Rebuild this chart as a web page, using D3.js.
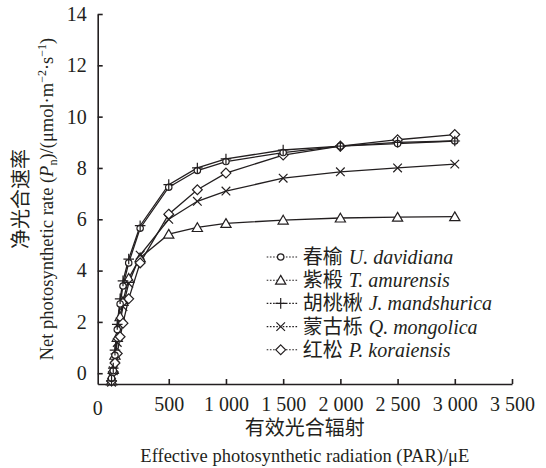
<!DOCTYPE html>
<html>
<head>
<meta charset="utf-8">
<script src="https://cdn.jsdelivr.net/npm/d3@7"></script>
<style>
  body { margin: 0; background: #fff; }
  .axis path, .axis line { stroke: #231f20; stroke-width: 1.6; }
</style>
</head>
<body>
<svg id="chart"></svg>
<script>
// light levels (PAR) and net photosynthetic rate per species
const par = [0, 15, 30, 50, 75, 100, 150, 250, 500, 750, 1000, 1500, 2000, 2500, 3000]
const chunyu = [-0.2, 0.1, 0.7, 1.7, 2.7, 3.4, 4.3, 5.65, 7.25, 7.9, 8.25, 8.6, 8.85, 8.95, 9.05]
const zijian = [-0.3, 0.15, 0.7, 1.4, 2.2, 2.8, 3.7, 4.5, 5.42, 5.68, 5.84, 5.97, 6.05, 6.08, 6.1]
const hutaoqiu = [-0.3, 0.2, 0.9, 1.9, 2.9, 3.6, 4.45, 5.75, 7.35, 8.0, 8.35, 8.7, 8.85, 9.0, 9.05]
const mengguli = [-0.35, 0.1, 0.6, 1.2, 2.0, 2.6, 3.5, 4.6, 6.0, 6.7, 7.1, 7.6, 7.85, 8.0, 8.15]
const hongsong = [-0.3, 0.05, 0.4, 0.77, 1.42, 1.95, 2.9, 4.3, 6.2, 7.15, 7.8, 8.5, 8.85, 9.1, 9.3]

const names = ['春榆', '紫椴', '胡桃楸', '蒙古栎', '红松']
const latin = ['U. davidiana', 'T. amurensis', 'J. mandshurica', 'Q. mongolica', 'P. koraiensis']
const symbols = ['circle', 'triangle', 'plus', 'cross', 'diamond']

const xTicks = [500, 1000, 1500, 2000, 2500, 3000, 3500]
const yTicks = [0, 2, 4, 6, 8, 10, 12, 14]

const series = [chunyu, zijian, hutaoqiu, mengguli, hongsong]

const SERIF = "'Liberation Serif', 'Times New Roman', serif"
const CJK = "'Noto Sans CJK SC', sans-serif"
const INK = '#231f20'

class LightCurve {

    constructor(config, _data) {
        this.config = config
        this.data = _data
        this.initVis()
    }

    initVis() {
        let vis = this
        let m = vis.config.margin

        vis.width = vis.config.containerWidth - m.left - m.right
        vis.height = vis.config.containerHeight - m.top - m.bottom

        vis.xScale = d3.scaleLinear()
            .domain([-121, 3500])
            .range([0, vis.width])

        vis.yScale = d3.scaleLinear()
            .domain([-0.42, 14])
            .range([vis.height, 0])

        vis.svg = d3.select(vis.config.parentElement)
            .attr('width', vis.config.containerWidth)
            .attr('height', vis.config.containerHeight)

        vis.chart = vis.svg.append('g')
            .attr('transform', `translate(${m.left},${m.top})`)

        vis.xAxis = d3.axisBottom(vis.xScale)
            .tickValues(xTicks)
            .tickSize(-5)
            .tickSizeOuter(0)
            .tickPadding(13)
            .tickFormat(d => d3.format(',')(d).replace(',', ' '))

        vis.yAxis = d3.axisLeft(vis.yScale)
            .tickValues(yTicks)
            .tickSize(-5)
            .tickSizeOuter(0)
            .tickPadding(11)

        vis.xAxisG = vis.chart.append('g')
            .attr('class', 'axis x-axis')
            .attr('transform', `translate(0,${vis.height})`)

        vis.yAxisG = vis.chart.append('g')
            .attr('class', 'axis y-axis')

        vis.renderVis()
    }

    marker(sel, type) {
        let s = 4.3
        if (type === 'circle') {
            sel.append('circle').attr('r', 3.2).attr('fill', '#fff')
        } else if (type === 'triangle') {
            sel.append('path').attr('d', `M0,${-s - 0.5}L${s + 0.8},${s - 0.3}L${-s - 0.8},${s - 0.3}Z`).attr('fill', '#fff')
        } else if (type === 'plus') {
            sel.append('path').attr('d', `M${-s - 1},0H${s + 1}M0,${-s - 1}V${s + 1}`).attr('fill', 'none')
        } else if (type === 'cross') {
            sel.append('path').attr('d', `M${-s},${-s}L${s},${s}M${-s},${s}L${s},${-s}`).attr('fill', 'none')
        } else {
            sel.append('path').attr('d', `M0,${-s - 0.6}L${s + 0.6},0L0,${s + 0.6}L${-s - 0.6},0Z`).attr('fill', '#fff')
        }
        sel.selectAll('*').attr('stroke', INK).attr('stroke-width', 1.2)
    }

    renderVis() {
        let vis = this

        vis.xAxisG.call(vis.xAxis)
        vis.yAxisG.call(vis.yAxis)

        vis.chart.selectAll('.axis')
            .attr('font-family', SERIF)
            .attr('font-size', 20)
        vis.chart.selectAll('.axis text')
            .attr('fill', INK)

        // zero label sits at the left end of the x axis
        vis.xAxisG.append('text')
            .attr('x', 0)
            .attr('y', 31)
            .attr('text-anchor', 'middle')
            .attr('fill', INK)
            .text('0')

        let line = d3.line()
            .x((d, i) => vis.xScale(par[i]))
            .y(d => vis.yScale(d))

        let order = [1, 3, 4, 0, 2]
        order.forEach(k => {
            vis.chart.append('path')
                .datum(vis.data[k])
                .attr('fill', 'none')
                .attr('stroke', INK)
                .attr('stroke-width', 1.3)
                .attr('d', line)
        })
        order.forEach(k => {
            vis.chart.selectAll(`.pt-${k}`)
                .data(vis.data[k])
                .join('g')
                .attr('class', `pt-${k}`)
                .attr('transform', (d, i) => `translate(${vis.xScale(par[i])},${vis.yScale(d)})`)
                .each(function () { vis.marker(d3.select(this), symbols[k]) })
        })

        // legend
        let legend = vis.chart.append('g')
            .attr('transform', `translate(${169},${257 - vis.config.margin.top})`)

        names.forEach((n, i) => {
            let row = legend.append('g').attr('transform', `translate(0,${i * 23.2})`)
            row.append('line')
                .attr('x1', 0).attr('x2', 31)
                .attr('stroke', INK)
                .attr('stroke-width', 1.1)
                .attr('stroke-dasharray', '1.6,1.6')
            vis.marker(row.append('g').attr('transform', 'translate(14,0)'), symbols[i])
            let cn = row.append('text')
                .attr('x', 36)
                .attr('y', 7)
                .attr('fill', INK)
                .style('font-family', CJK)
                .style('font-size', '20px')
                .text(n)
            let w = cn.node().getComputedTextLength()
            row.append('text')
                .attr('x', 36 + w + 6)
                .attr('y', 7)
                .attr('fill', INK)
                .style('font-family', SERIF)
                .style('font-style', 'italic')
                .style('font-size', '20px')
                .text(latin[i])
        })

        // axis titles
        let cx = vis.width / 2
        vis.chart.append('text')
            .attr('x', cx).attr('y', vis.height + 51)
            .attr('text-anchor', 'middle')
            .attr('fill', INK)
            .style('font-family', CJK)
            .style('font-size', '20px')
            .text('有效光合辐射')
        vis.chart.append('text')
            .attr('x', cx).attr('y', vis.height + 78)
            .attr('text-anchor', 'middle')
            .attr('fill', INK)
            .style('font-family', SERIF)
            .style('font-size', '18.5px')
            .text('Effective photosynthetic radiation (PAR)/μE')

        let cy = vis.height / 2
        vis.chart.append('text')
            .attr('transform', `translate(${28 - vis.config.margin.left},${cy}) rotate(-90)`)
            .attr('text-anchor', 'middle')
            .attr('fill', INK)
            .style('font-family', CJK)
            .style('font-size', '20px')
            .text('净光合速率')
        let yt = vis.chart.append('text')
            .attr('transform', `translate(${53 - vis.config.margin.left},${cy}) rotate(-90)`)
            .attr('text-anchor', 'middle')
            .attr('fill', INK)
            .style('font-family', SERIF)
            .style('font-size', '18.5px')
        yt.append('tspan').text('Net photosynthetic rate (')
        yt.append('tspan').style('font-style', 'italic').text('P')
        yt.append('tspan').attr('dy', 4).style('font-size', '12px').text('n')
        yt.append('tspan').attr('dy', -4).text(')/(μmol·m')
        yt.append('tspan').attr('dy', -7).style('font-size', '12px').text('−2')
        yt.append('tspan').attr('dy', 7).text('·s')
        yt.append('tspan').attr('dy', -7).style('font-size', '12px').text('−1')
        yt.append('tspan').attr('dy', 7).text(')')
    }
}

new LightCurve({
    parentElement: '#chart',
    containerWidth: 546,
    containerHeight: 468,
    margin: {top: 14, right: 34, bottom: 84, left: 97.7}
}, series)
</script>
</body>
</html>
